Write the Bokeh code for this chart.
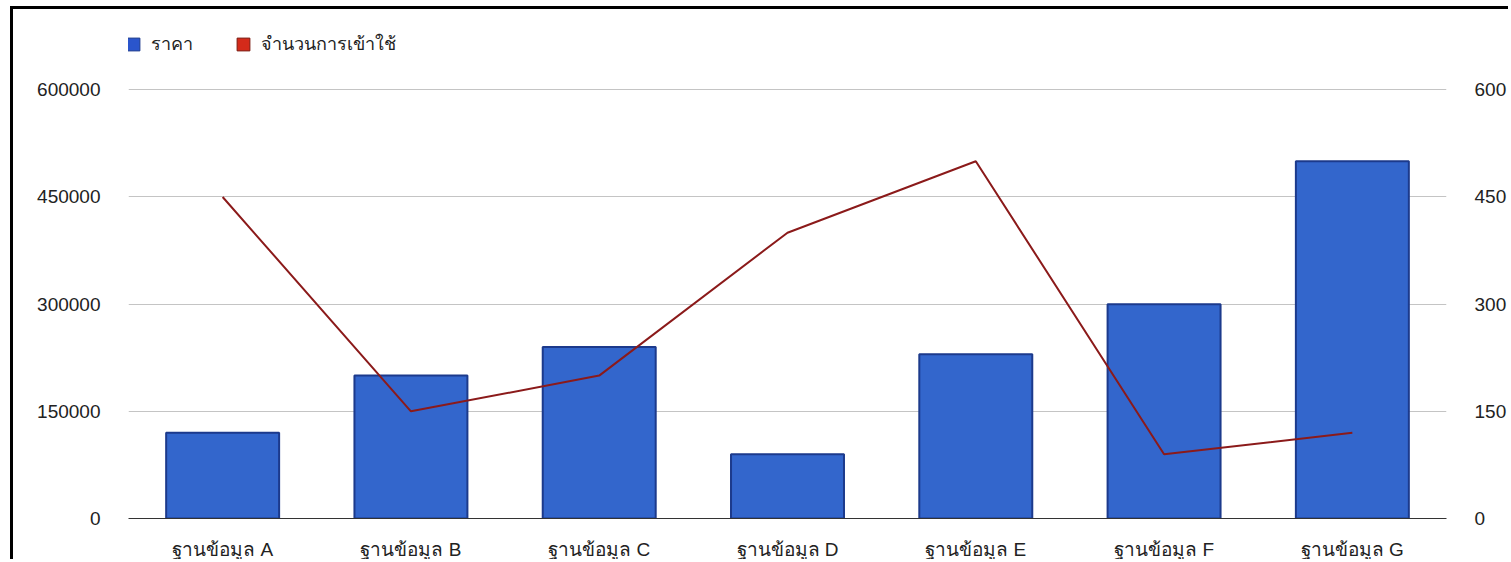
from bokeh.plotting import figure
from bokeh.models import (Range1d, LinearAxis, FixedTicker, NumeralTickFormatter,
                          Legend, LegendItem, FactorRange, ColumnDataSource)
from bokeh.embed import file_html
from bokeh.resources import INLINE

categories = ["ฐานข้อมูล A", "ฐานข้อมูล B", "ฐานข้อมูล C", "ฐานข้อมูล D",
              "ฐานข้อมูล E", "ฐานข้อมูล F", "ฐานข้อมูล G"]
price = [120000, 200000, 240000, 90000, 230000, 300000, 500000]
visits = [450, 150, 200, 400, 500, 90, 120]
left_ticks = [0, 150000, 300000, 450000, 600000]
right_ticks = [0, 150, 300, 450, 600]
series_names = ["ราคา", "จำนวนการเข้าใช้"]

FONT = "Liberation Sans, Arial, Tahoma, sans-serif"

src = ColumnDataSource(dict(cat=categories, price=price, visits=visits))

# the frame extends above the top tick to leave room for the legend
p = figure(x_range=FactorRange(*categories), y_range=Range1d(0, 697000),
           width=1498, height=553,
           output_backend="svg", toolbar_location=None,
           min_border_left=115, min_border_right=65, min_border_top=11,
           min_border_bottom=40)
p.styles = {"border-left": "3px solid black", "border-top": "3px solid black",
            "margin-left": "10px", "margin-top": "6px"}
p.outline_line_color = None
p.background_fill_color = "white"
p.border_fill_color = "white"
p.x_range.range_padding = 0
p.x_range.group_padding = 0

p.extra_y_ranges = {"visits": Range1d(0, 697)}

bars = p.vbar(x="cat", top="price", width=0.6, source=src,
              fill_color="#3366cc", line_color="#1c3a8c", line_width=2)

# zero-size proxies so both series get square swatches in the legend
sw1 = p.vbar(x="cat", top=0, bottom=0, width=0, source=src,
             fill_color="#2a55cc", line_color="#1c3a8c", line_width=1)
sw2 = p.vbar(x="cat", top=0, bottom=0, width=0, source=src,
             fill_color="#d42a1a", line_color="#7a1a10", line_width=1)

line = p.line(x="cat", y="visits", source=src, y_range_name="visits",
              line_color="#8b1a1a", line_width=2)

# left axis
ya = p.yaxis[0]
ya.ticker = FixedTicker(ticks=left_ticks)
ya.formatter = NumeralTickFormatter(format="0")
ya.axis_line_color = None
ya.major_tick_line_color = None
ya.minor_tick_line_color = None
ya.major_label_standoff = 22
ya.major_label_text_font = FONT
ya.major_label_text_font_size = "19px"
ya.major_label_text_color = "#222222"

# right axis
ra = LinearAxis(y_range_name="visits", ticker=FixedTicker(ticks=right_ticks))
ra.axis_line_color = None
ra.major_tick_line_color = None
ra.minor_tick_line_color = None
ra.major_label_standoff = 22
ra.major_label_text_font = FONT
ra.major_label_text_font_size = "19px"
ra.major_label_text_color = "#222222"
p.add_layout(ra, "right")

# x axis
xa = p.xaxis[0]
xa.axis_line_color = "#333333"
xa.axis_line_width = 1
xa.major_tick_line_color = None
xa.minor_tick_line_color = None
xa.major_label_standoff = 14
xa.major_label_text_font = FONT
xa.major_label_text_font_size = "19px"
xa.major_label_text_color = "#222222"

p.xgrid.grid_line_color = None
p.ygrid.ticker = FixedTicker(ticks=left_ticks)
p.ygrid.grid_line_color = "#c4c4c4"
p.ygrid.grid_line_width = 1

legend = Legend(items=[LegendItem(label=series_names[0], renderers=[sw1]),
                       LegendItem(label=series_names[1], renderers=[sw2])],
                orientation="horizontal", location=(-3, 460),
                background_fill_alpha=0, border_line_color=None,
                glyph_width=16, glyph_height=16, label_text_font=FONT,
                label_text_font_size="18px", label_text_color="#222222",
                spacing=42, padding=4, margin=0, label_standoff=10)
p.add_layout(legend)

open("out.html", "w").write(file_html(p, INLINE))
